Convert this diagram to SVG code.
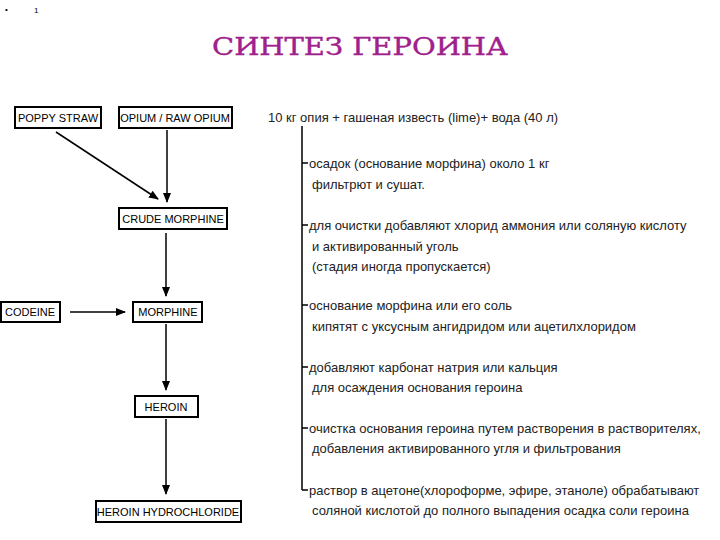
<svg xmlns="http://www.w3.org/2000/svg" width="720" height="540" viewBox="0 0 720 540">
<defs><marker id="a" markerWidth="10" markerHeight="8" refX="9" refY="4" orient="auto" markerUnits="userSpaceOnUse"><path d="M0,0 L10,4 L0,8 z" fill="#000"/></marker>
<style>
.b{fill:#fff;stroke:#000;stroke-width:2}
.t{font-family:"Liberation Sans",Arial,sans-serif;font-size:11px;fill:#000;text-anchor:middle}
.r{font-family:"Liberation Sans",Arial,sans-serif;font-size:13px;fill:#222}
.c{stroke:#000;stroke-width:1.5;fill:none}
.h{font-family:"DejaVu Serif","Liberation Serif",serif;font-size:25px;fill:#a0208c;text-anchor:middle;stroke:#a0208c;stroke-width:0.4}
.s{font-family:"Liberation Sans",Arial,sans-serif;font-size:8px;fill:#000}
</style></defs>
<rect width="720" height="540" fill="#fff"/>
<text class="s" x="5" y="12">•</text>
<text class="s" x="34" y="13">1</text>
<text class="h" x="360" y="55" textLength="296" lengthAdjust="spacingAndGlyphs">СИНТЕЗ ГЕРОИНА</text>
<g id="connectors" class="c">
<line x1="56" y1="132" x2="158" y2="199" marker-end="url(#a)"/>
<line x1="167" y1="130" x2="167" y2="202" marker-end="url(#a)"/>
<line x1="166" y1="233" x2="166" y2="296" marker-end="url(#a)"/>
<line x1="70" y1="312" x2="125" y2="312" marker-end="url(#a)"/>
<line x1="166" y1="324" x2="166" y2="390" marker-end="url(#a)"/>
<line x1="166" y1="419" x2="166" y2="494" marker-end="url(#a)"/>
</g>
<g id="n1"><rect class="b" x="15" y="107" width="86" height="21"/><text class="t" x="58" y="122">POPPY STRAW</text></g>
<g id="n2"><rect class="b" x="119" y="107" width="113" height="21"/><text class="t" x="175" y="122">OPIUM / RAW OPIUM</text></g>
<g id="n3"><rect class="b" x="119" y="208" width="108" height="21"/><text class="t" x="173" y="223">CRUDE MORPHINE</text></g>
<g id="n4"><rect class="b" x="1" y="302" width="59" height="20"/><text class="t" x="30" y="316">CODEINE</text></g>
<g id="n5"><rect class="b" x="133" y="302" width="69" height="20"/><text class="t" x="168" y="316">MORPHINE</text></g>
<g id="n6"><rect class="b" x="135" y="396" width="63" height="21"/><text class="t" x="166" y="411">HEROIN</text></g>
<g id="n7"><rect class="b" x="96" y="501" width="145" height="21"/><text class="t" x="168" y="516">HEROIN HYDROCHLORIDE</text></g>
<g id="steps">
<path class="c" d="M302,126 V490 M302,163 H308 M302,225 H308 M302,305 H308 M302,367 H308 M302,428 H308 M302,490 H308" stroke-width="1.2"/>
<text class="r" x="268" y="122">10 кг опия + гашеная известь (lime)+ вода (40 л)</text>
<text class="r" x="309" y="168">осадок (основание морфина) около 1 кг</text>
<text class="r" x="312" y="189">фильтрют и сушат.</text>
<text class="r" x="309" y="230">для очистки добавляют хлорид аммония или соляную кислоту</text>
<text class="r" x="312" y="251">и активированный уголь</text>
<text class="r" x="312" y="271">(стадия иногда пропускается)</text>
<text class="r" x="309" y="310">основание морфина или его соль</text>
<text class="r" x="312" y="331">кипятят с уксусным ангидридом или ацетилхлоридом</text>
<text class="r" x="309" y="372">добавляют карбонат натрия или кальция</text>
<text class="r" x="312" y="392">для осаждения основания героина</text>
<text class="r" x="309" y="433">очистка основания героина путем растворения в растворителях,</text>
<text class="r" x="312" y="453">добавления активированного угля и фильтрования</text>
<text class="r" x="309" y="495">раствор в ацетоне(хлороформе, эфире, этаноле) обрабатывают</text>
<text class="r" x="312" y="515">соляной кислотой до полного выпадения осадка соли героина</text>
</g>
</svg>
